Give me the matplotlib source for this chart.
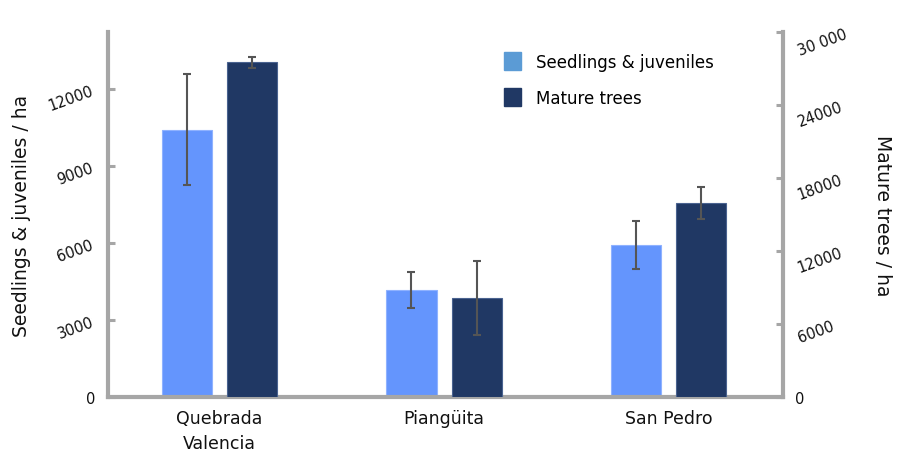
import matplotlib.pyplot as plt
import matplotlib.patches as mpatches
import numpy as np

sites = ["Quebrada\nValencia", "Piangüita", "San Pedro"]
seedlings = [10390, 4160, 5910]
seedlings_err = [2160, 700, 930]
mature = [27530, 8140, 15950]
mature_err = [450, 3040, 1350]

left_ticks = [0, 3000, 6000, 9000, 12000]
right_ticks = [0, 6000, 12000, 18000, 24000, 30000]
right_labels = ["0", "6000", "12000", "18000", "24000", "30 000"]

light = "#6495fd"
dark = "#203864"
grey = "#a6a6a6"

fig = plt.figure(figsize=(9.01, 4.56), dpi=100)
ax = fig.add_axes([108/901, 1-398/456, (783-108)/901, (398-33)/456])
ax2 = ax.twinx()

x = np.arange(len(sites))
w = 0.223
off = 0.145

ax.bar(x - off, seedlings, w, color=light, edgecolor="#8fb2ff", linewidth=0.8)
ax.errorbar(x - off, seedlings, yerr=seedlings_err, fmt="none", ecolor="#555555",
            elinewidth=1.5, capsize=3, capthick=1.5)
ax2.bar(x + off, mature, w, color=dark, edgecolor="#4a6390", linewidth=0.8)
ax2.errorbar(x + off, mature, yerr=mature_err, fmt="none", ecolor="#555555",
             elinewidth=1.5, capsize=3, capthick=1.5)

ax.set_xlim(-0.497, 2.51)
ax.set_ylim(0, 14200)
ax2.set_ylim(0, 30000)

ax.set_xticks(x)
ax.set_xticklabels(sites, fontsize=12.5, color="#111111", linespacing=1.45)
ax.tick_params(axis="x", length=0, pad=9)

ax.set_yticks(left_ticks)
ax.set_yticklabels([str(t) for t in left_ticks], fontsize=10.5, rotation=20, color="#111111")
ax.tick_params(axis="y", direction="in", length=5, width=2.2, color=grey, pad=9)
ax2.set_yticks(right_ticks)
ax2.set_yticklabels(right_labels, fontsize=10.5, rotation=20, color="#111111")
ax2.tick_params(axis="y", direction="in", length=5, width=2.2, color=grey, pad=9)
ax.get_yticklabels()[0].set_rotation(0)
ax2.get_yticklabels()[0].set_rotation(0)

for a in (ax, ax2):
    a.spines["top"].set_visible(False)
    for s in ("left", "right", "bottom"):
        a.spines[s].set_color(grey)
        a.spines[s].set_linewidth(3)
ax.spines["right"].set_visible(False)
ax2.spines["left"].set_visible(False)
ax2.spines["bottom"].set_visible(False)

ax.set_ylabel("Seedlings & juveniles / ha", fontsize=13.5, color="#111111", labelpad=11)
ax2.set_ylabel("Mature trees / ha", fontsize=13.5, color="#111111", rotation=-90, labelpad=31)

handles = [mpatches.Patch(color="#5b9bd5", label="Seedlings & juveniles"),
           mpatches.Patch(color=dark, label="Mature trees")]
leg = ax2.legend(handles=handles, loc="upper left", bbox_to_anchor=(0.565, 0.985),
                 frameon=False, fontsize=12, handlelength=1.0, handleheight=1.25,
                 labelspacing=1.05, handletextpad=0.9)

fig.savefig("out.png", dpi=100)
